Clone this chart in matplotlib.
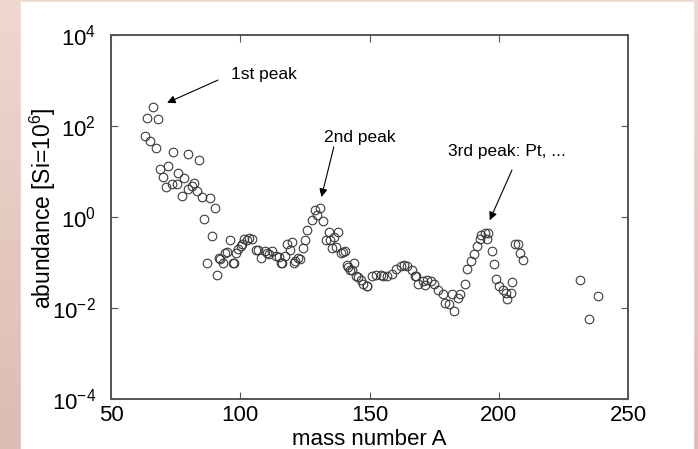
import numpy as np
import matplotlib
matplotlib.use("Agg")
import matplotlib.pyplot as plt
from matplotlib.patches import Rectangle

plt.rcParams['font.family'] = ['Liberation Sans', 'DejaVu Sans']
plt.rcParams['mathtext.fontset'] = 'custom'
plt.rcParams['mathtext.rm'] = 'Liberation Sans'
plt.rcParams['mathtext.it'] = 'Liberation Sans'

# r-process abundances
mass_a = [63.0, 64.0, 65.1, 66.4, 67.3, 68.1, 69.0, 70.2, 71.3, 72.2, 73.7, 74.1,
          75.4, 76.0, 77.3, 78.2, 79.9, 79.9, 81.2, 82.2, 83.2, 84.2, 85.3, 86.0,
          87.0, 88.3, 89.2, 90.2, 91.1,
          91.6, 92.2, 93.3, 94.2, 94.8, 95.9, 97.1, 97.6, 98.5, 99.2, 100.2, 100.5,
          101.5, 102.5, 103.3, 104.5, 106.2, 107.0, 107.9, 109.6, 110.5, 111.0,
          112.2, 113.9, 115.1, 115.6, 116.0, 117.4, 118.2, 119.2, 119.9, 120.8,
          121.2, 122.5, 123.1, 124.2, 125.1, 125.9, 127.7, 129.0, 129.7, 130.8,
          132.0, 133.1, 134.2, 134.9, 135.4, 136.3, 137.1, 138.0, 138.8, 139.7,
          140.5, 141.4, 141.8, 142.3, 143.1, 144.0, 144.8, 145.7, 146.6, 147.4,
          148.9, 149.1, 150.9, 152.6, 154.3, 155.2, 156.9, 158.6, 160.3, 162.0,
          163.4, 164.6, 166.3, 167.6, 168.0, 168.9, 170.6, 171.5, 172.3, 173.7,
          174.9, 176.6, 178.4, 179.2, 180.9, 181.8, 182.6, 184.4, 185.2, 186.9,
          187.8, 189.2, 190.4, 191.6, 192.6, 193.0, 194.7, 195.5, 196.0, 197.3,
          198.1, 199.0, 200.2, 201.5, 202.9, 203.3, 204.6, 205.0, 206.4, 207.6,
          208.1, 209.3,
          231.6, 235.1, 238.5]
abundance = [60, 150, 48, 260, 33, 140, 11.3, 7.7, 4.6, 13.4, 5.3, 27,
             5.3, 9.1, 2.9, 7.1, 4.1, 24, 4.8, 5.7, 3.7, 18, 2.7, 0.9,
             0.10, 2.6, 0.39, 1.6, 0.053,
             0.126, 0.12, 0.098, 0.16, 0.17, 0.31, 0.10, 0.098, 0.16, 0.2, 0.23, 0.26,
             0.33, 0.32, 0.35, 0.33, 0.19, 0.19, 0.126, 0.18, 0.16, 0.15,
             0.18, 0.14, 0.13, 0.098, 0.10, 0.14, 0.26, 0.19, 0.28, 0.098,
             0.11, 0.126, 0.12, 0.21, 0.31, 0.53, 0.85, 1.4, 1.1, 1.6,
             0.8, 0.31, 0.48, 0.32, 0.21, 0.37, 0.22, 0.48, 0.16, 0.17,
             0.18, 0.087, 0.079, 0.07, 0.069, 0.098, 0.051, 0.049, 0.042, 0.033,
             0.030, 0.030, 0.050, 0.054, 0.054, 0.05, 0.05, 0.057, 0.072, 0.083,
             0.09, 0.083, 0.067, 0.050, 0.05, 0.033, 0.039, 0.032, 0.041, 0.039,
             0.034, 0.025, 0.02, 0.013, 0.012, 0.02, 0.0085, 0.017, 0.02, 0.034,
             0.072, 0.106, 0.156, 0.23, 0.33, 0.41, 0.45, 0.33, 0.45, 0.18,
             0.095, 0.043, 0.030, 0.025, 0.021, 0.016, 0.021, 0.037, 0.25, 0.25,
             0.16, 0.115,
             0.041, 0.0056, 0.018]

x_ticks = [50, 100, 150, 200, 250]
y_ticks = [1e-4, 1e-2, 1e0, 1e2, 1e4]

W, H = 698, 449
fig = plt.figure(figsize=(W / 100, H / 100), dpi=100)

# pinkish slide background with white panel
bg = fig.add_axes([0, 0, 1, 1])
grad = np.linspace(0, 1, 64)[:, None, None]
top = np.array([238, 216, 206]) / 255
bot = np.array([220, 188, 178]) / 255
img = top + (bot - top) * grad
bg.imshow(np.repeat(img, 4, axis=1), aspect='auto', extent=[0, 1, 0, 1])
bg.add_patch(Rectangle((21 / W, 0), (693 - 21) / W, 447 / H, color='white',
                       transform=bg.transAxes))
bg.set_axis_off()

ax = fig.add_axes([111 / W, (H - 399) / H, (628 - 111) / W, (399 - 35) / H])
ax.semilogy(mass_a, abundance, 'o', ls='none', ms=6.2, mfc='none',
            mec='#3a3a3a', mew=0.8)

ax.set_xlim(50, 250)
ax.set_ylim(1e-4, 1e4)
ax.set_xticks(x_ticks)
ax.set_yticks(y_ticks)
ax.yaxis.set_minor_locator(matplotlib.ticker.NullLocator())
ax.tick_params(direction='in', top=True, right=True, length=5, width=0.8,
               colors='#555555', labelcolor='black', labelsize=16)
ax.tick_params(axis='x', pad=4)
ax.tick_params(axis='y', pad=11)
for s in ax.spines.values():
    s.set_color('#555555')
    s.set_linewidth(1.4)

ax.set_xlabel('mass number A', fontsize=16)
ax.xaxis.set_label_coords(0.5, -0.083)
ax.set_ylabel('abundance [Si=10$^6$]', fontsize=16.5)
ax.yaxis.set_label_coords(-0.103, 0.525)

arrow = dict(arrowstyle='-|>', color='black', lw=0.8, mutation_scale=12,
             shrinkA=0, shrinkB=0)
ax.annotate('', xy=(71.7, 10 ** 2.51), xytext=(91.4, 10 ** 3.01), arrowprops=arrow)
ax.text(96.5, 10 ** 3.13, '1st peak', fontsize=12.5, va='center')
ax.annotate('', xy=(131.4, 10 ** 0.44), xytext=(136.2, 10 ** 1.54), arrowprops=arrow)
ax.text(132.5, 10 ** 1.74, '2nd peak', fontsize=12.5, va='center')
ax.annotate('', xy=(196.5, 10 ** -0.07), xytext=(205.1, 10 ** 1.03), arrowprops=arrow)
ax.text(180.5, 10 ** 1.43, '3rd peak: Pt, ...', fontsize=12.5, va='center')

fig.savefig('out.png', dpi=100)
